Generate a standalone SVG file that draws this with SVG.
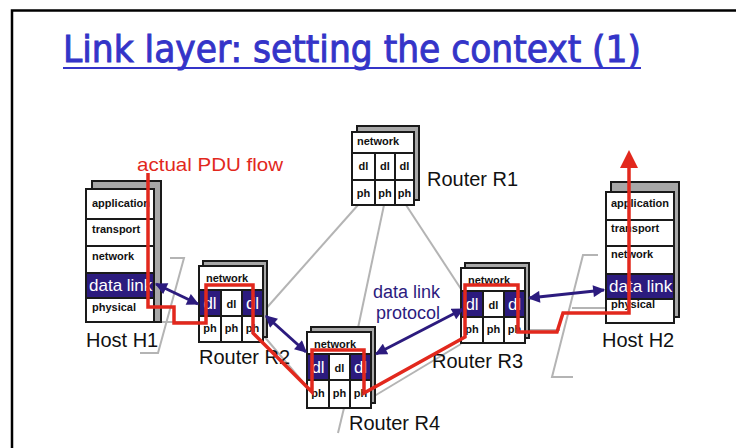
<svg xmlns="http://www.w3.org/2000/svg" width="736" height="448" viewBox="0 0 736 448">
  <defs>
    <style>
      .frame { stroke: #000; stroke-width: 2.5; fill: none; }
      .title { font-family: "DejaVu Sans Condensed", "DejaVu Sans", sans-serif; font-size: 38px; fill: #3434c8; stroke: #3434c8; stroke-width: 0.9; }
      .shadow { fill: #a8a8a8; stroke: #1a1a1a; stroke-width: 2; }
      .box { fill: #fff; stroke: #1a1a1a; stroke-width: 2; }
      .dl { fill: #2c1b7e; stroke: none; }
      .div { stroke: #1a1a1a; stroke-width: 2; fill: none; }
      .lbl { font-family: "Liberation Sans", Arial, sans-serif; font-size: 11px; font-weight: bold; fill: #111; }
      .lblw { font-family: "Liberation Sans", Arial, sans-serif; font-size: 17px; fill: #fff; }
      .name { font-family: "Liberation Sans", Arial, sans-serif; font-size: 20px; fill: #111; }
      .link { stroke: #b4b4b4; stroke-width: 2; fill: none; }
      .peer { stroke: #2c1b7e; stroke-width: 3; fill: none; marker-start: url(#ah); marker-end: url(#ah); }
      .pdu { stroke: #e2281d; stroke-width: 3.5; fill: none; stroke-linejoin: miter; }
      .note { font-family: "Liberation Sans", Arial, sans-serif; font-size: 18px; fill: #2c1b7e; }
    </style>
    <marker id="ah" viewBox="0 0 10 10" refX="9" refY="5" markerUnits="userSpaceOnUse" markerWidth="13" markerHeight="12" orient="auto-start-reverse">
      <path d="M0,0 L10,5 L0,10 z" fill="#2c1b7e"/>
    </marker>
  </defs>

  <rect width="736" height="448" fill="#fff"/>
  <!-- slide frame -->
  <path class="frame" d="M12,448 V10.5 H736"/>

  <!-- title -->
  <text class="title" x="63" y="62" textLength="578" lengthAdjust="spacingAndGlyphs">Link layer: setting the context (1)</text>
  <line x1="63" y1="68" x2="641" y2="68" stroke="#3434c8" stroke-width="2"/>

  <!-- physical links and LAN segments -->
  <g id="links">
    <line class="link" x1="358" y1="205" x2="263" y2="312"/>
    <line class="link" x1="384" y1="205" x2="358" y2="328"/>
    <line class="link" x1="406" y1="205" x2="463" y2="292"/>
    <line class="link" x1="263" y1="335" x2="307" y2="387"/>
    <line class="link" x1="371" y1="398" x2="461" y2="344"/>
    <line class="link" x1="344" y1="408" x2="338" y2="433"/>
    <polyline class="link" points="170,258 184,258 158,353 140,353"/>
    <line class="link" x1="154" y1="322" x2="199" y2="322"/>
    <polyline class="link" points="598,255 583,255 552,377 573,377"/>
    <line class="link" x1="572" y1="308" x2="606" y2="308"/>
    <line class="link" x1="525" y1="330" x2="560" y2="330"/>
  </g>

  <!-- Host H1 -->
  <g id="host-h1">
    <rect class="shadow" x="92" y="181" width="69" height="141"/>
    <rect class="box" x="86" y="189" width="68" height="133"/>
    <rect class="dl" x="86" y="273" width="68" height="25"/>
    <path class="div" d="M86,219 H154 M86,246 H154 M86,273 H154 M86,298 H154"/>
    <rect class="box" x="86" y="189" width="68" height="133" style="fill:none"/>
    <text class="lbl" x="92" y="207">application</text>
    <text class="lbl" x="92" y="233">transport</text>
    <text class="lbl" x="92" y="260">network</text>
    <text class="lblw" x="89" y="291">data link</text>
    <text class="lbl" x="92" y="311">physical</text>
    <text class="name" x="86" y="347">Host H1</text>
  </g>

  <!-- Host H2 -->
  <g id="host-h2">
    <rect class="shadow" x="611" y="182" width="68" height="135"/>
    <rect class="box" x="606" y="192" width="68" height="131"/>
    <rect class="dl" x="606" y="274" width="68" height="25"/>
    <path class="div" d="M606,220 H674 M606,246 H674 M606,274 H674 M606,299 H674"/>
    <rect class="box" x="606" y="192" width="68" height="131" style="fill:none"/>
    <text class="lbl" x="611" y="207">application</text>
    <text class="lbl" x="611" y="232">transport</text>
    <text class="lbl" x="611" y="258">network</text>
    <text class="lblw" x="609" y="292">data link</text>
    <text class="lbl" x="611" y="308">physical</text>
    <text class="name" x="602" y="347">Host H2</text>
  </g>

  <!-- Router R1 -->
  <g id="router-r1">
    <rect class="shadow" x="357" y="126" width="62" height="74"/>
    <rect class="box" x="352" y="132" width="62" height="73"/>
    <path class="div" d="M352,153 H414 M352,180 H414 M375,153 V205 M395,153 V205"/>
    <text class="lbl" x="357" y="145">network</text>
    <text class="lbl" x="363.5" y="170" text-anchor="middle">dl</text>
    <text class="lbl" x="385" y="170" text-anchor="middle">dl</text>
    <text class="lbl" x="404.5" y="170" text-anchor="middle">dl</text>
    <text class="lbl" x="363.5" y="197" text-anchor="middle">ph</text>
    <text class="lbl" x="385" y="197" text-anchor="middle">ph</text>
    <text class="lbl" x="404.5" y="197" text-anchor="middle">ph</text>
    <text class="name" x="427" y="186">Router R1</text>
  </g>

  <!-- Router R2 -->
  <g id="router-r2">
    <rect class="shadow" x="203" y="261" width="64" height="76"/>
    <rect class="box" x="199" y="266" width="64" height="76"/>
    <rect class="dl" x="199" y="290" width="22" height="26"/>
    <rect class="dl" x="242" y="290" width="21" height="26"/>
    <path class="div" d="M199,290 H263 M199,316 H263 M221,290 V342 M242,290 V342"/>
    <rect class="box" x="199" y="266" width="64" height="76" style="fill:none"/>
    <text class="lbl" x="206" y="282">network</text>
    <text class="lblw" x="210" y="309" text-anchor="middle">dl</text>
    <text class="lbl" x="231.5" y="308" text-anchor="middle">dl</text>
    <text class="lblw" x="252.5" y="309" text-anchor="middle">dl</text>
    <text class="lbl" x="210" y="332" text-anchor="middle">ph</text>
    <text class="lbl" x="231.5" y="332" text-anchor="middle">ph</text>
    <text class="lbl" x="252.5" y="332" text-anchor="middle">ph</text>
    <text class="name" x="199" y="364">Router R2</text>
  </g>

  <!-- Router R3 -->
  <g id="router-r3">
    <rect class="shadow" x="465" y="263" width="64" height="75"/>
    <rect class="box" x="461" y="268" width="64" height="75"/>
    <rect class="dl" x="461" y="291" width="22" height="26"/>
    <rect class="dl" x="504" y="291" width="21" height="26"/>
    <path class="div" d="M461,291 H525 M461,317 H525 M483,291 V343 M504,291 V343"/>
    <rect class="box" x="461" y="268" width="64" height="75" style="fill:none"/>
    <text class="lbl" x="468" y="284">network</text>
    <text class="lblw" x="472" y="310" text-anchor="middle">dl</text>
    <text class="lbl" x="493.5" y="309" text-anchor="middle">dl</text>
    <text class="lblw" x="514.5" y="310" text-anchor="middle">dl</text>
    <text class="lbl" x="472" y="333" text-anchor="middle">ph</text>
    <text class="lbl" x="493.5" y="333" text-anchor="middle">ph</text>
    <text class="lbl" x="514.5" y="333" text-anchor="middle">ph</text>
    <text class="name" x="432" y="368">Router R3</text>
  </g>

  <!-- Router R4 -->
  <g id="router-r4">
    <rect class="shadow" x="311" y="327" width="64" height="76"/>
    <rect class="box" x="307" y="332" width="64" height="76"/>
    <rect class="dl" x="307" y="354" width="22" height="26"/>
    <rect class="dl" x="350" y="354" width="21" height="26"/>
    <path class="div" d="M307,354 H371 M307,380 H371 M329,354 V408 M350,354 V408"/>
    <rect class="box" x="307" y="332" width="64" height="76" style="fill:none"/>
    <text class="lbl" x="314" y="348">network</text>
    <text class="lblw" x="318" y="373" text-anchor="middle">dl</text>
    <text class="lbl" x="339.5" y="372" text-anchor="middle">dl</text>
    <text class="lblw" x="360.5" y="373" text-anchor="middle">dl</text>
    <text class="lbl" x="318" y="397" text-anchor="middle">ph</text>
    <text class="lbl" x="339.5" y="397" text-anchor="middle">ph</text>
    <text class="lbl" x="360.5" y="397" text-anchor="middle">ph</text>
    <text class="name" x="349" y="430">Router R4</text>
  </g>

  <!-- link-layer peer arrows and the PDU path -->
  <g id="connectors">
    <line class="peer" x1="156" y1="284" x2="198" y2="304"/>
    <line class="peer" x1="266" y1="316" x2="306" y2="352"/>
    <line class="peer" x1="376" y1="354" x2="463" y2="309"/>
    <line class="peer" x1="529" y1="298" x2="604" y2="290"/>
    <path class="pdu" d="M148,173 V307 H174 V323 H206 V285 H253 V333 L312,392 V350 H364 V393 L465,337 V285 H518 V332 H557 L563,313 H629 V166"/>
    <polygon points="620,168 638,168 629,150" fill="#e2281d"/>
  </g>

  <text x="137" y="171" font-family="Liberation Sans, Arial, sans-serif" font-size="19" fill="#e2281d" textLength="146" lengthAdjust="spacingAndGlyphs">actual PDU flow</text>
  <text class="note" x="373" y="298">data link</text>
  <text class="note" x="376" y="319">protocol</text>
</svg>
